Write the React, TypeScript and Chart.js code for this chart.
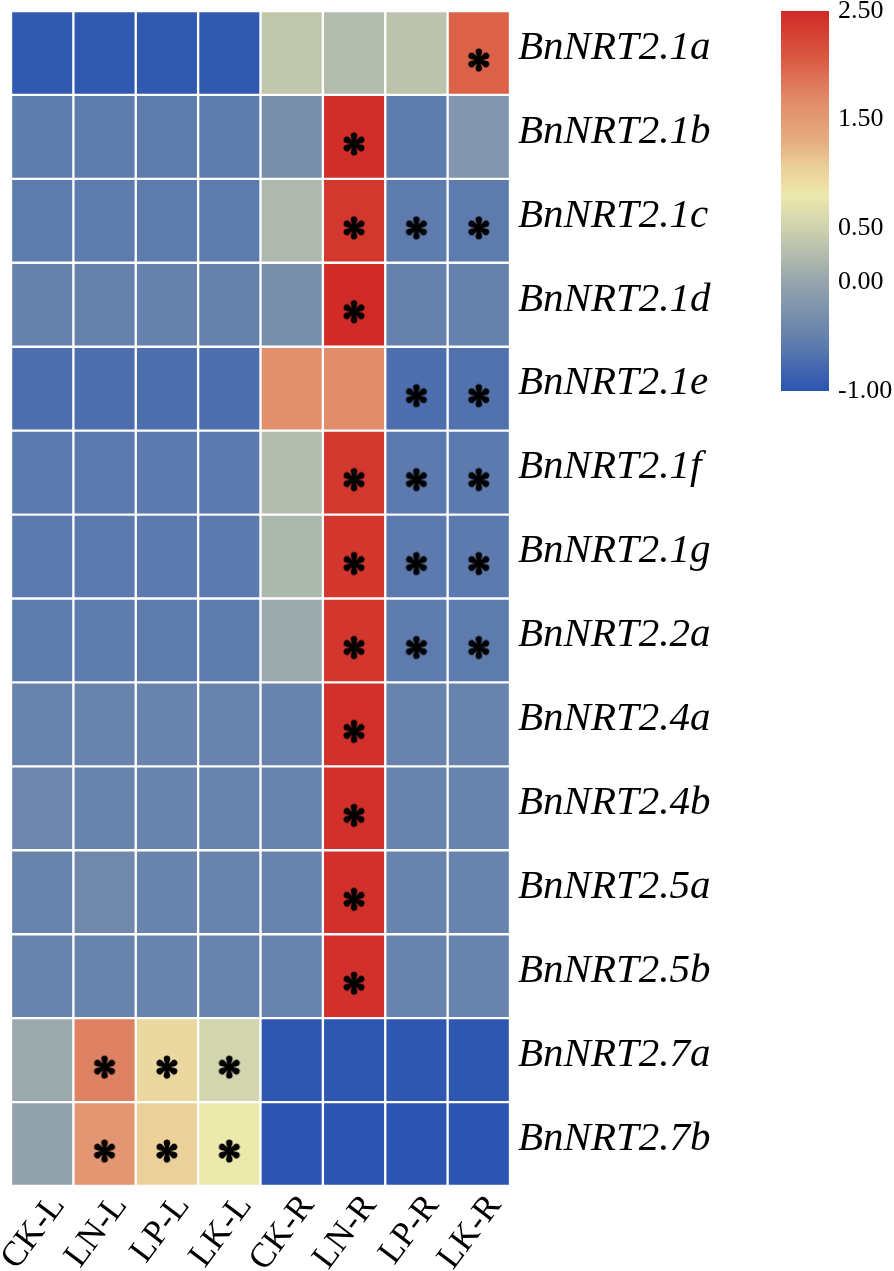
import React, { useEffect, useRef } from "react";
import { Chart, registerables } from "chart.js";

Chart.register(...registerables);

// ---------- data ----------
const columns = ["CK-L", "LN-L", "LP-L", "LK-L", "CK-R", "LN-R", "LP-R", "LK-R"];

const genes = [
  "BnNRT2.1a",
  "BnNRT2.1b",
  "BnNRT2.1c",
  "BnNRT2.1d",
  "BnNRT2.1e",
  "BnNRT2.1f",
  "BnNRT2.1g",
  "BnNRT2.2a",
  "BnNRT2.4a",
  "BnNRT2.4b",
  "BnNRT2.5a",
  "BnNRT2.5b",
  "BnNRT2.7a",
  "BnNRT2.7b",
];

const nrt21a = [-0.95, -0.95, -0.95, -0.95, 0.38, 0.27, 0.34, 2.0];
const nrt21b = [-0.55, -0.55, -0.55, -0.55, -0.3, 2.47, -0.55, -0.2];
const nrt21c = [-0.57, -0.57, -0.57, -0.57, 0.22, 2.38, -0.57, -0.57];
const nrt21d = [-0.5, -0.5, -0.5, -0.5, -0.3, 2.5, -0.5, -0.5];
const nrt21e = [-0.7, -0.7, -0.7, -0.7, 1.62, 1.66, -0.7, -0.67];
const nrt21f = [-0.58, -0.58, -0.58, -0.58, 0.27, 2.38, -0.58, -0.58];
const nrt21g = [-0.58, -0.58, -0.58, -0.58, 0.2, 2.4, -0.58, -0.58];
const nrt22a = [-0.57, -0.57, -0.57, -0.57, 0.05, 2.4, -0.57, -0.57];
const nrt24a = [-0.46, -0.46, -0.46, -0.46, -0.46, 2.45, -0.46, -0.46];
const nrt24b = [-0.42, -0.46, -0.46, -0.46, -0.46, 2.45, -0.46, -0.46];
const nrt25a = [-0.46, -0.4, -0.46, -0.46, -0.46, 2.45, -0.46, -0.46];
const nrt25b = [-0.46, -0.46, -0.46, -0.46, -0.46, 2.45, -0.46, -0.46];
const nrt27a = [0.05, 1.75, 0.97, 0.55, -0.98, -0.98, -0.98, -0.98];
const nrt27b = [-0.03, 1.55, 1.05, 0.8, -1.0, -1.0, -1.0, -1.0];

const rowValues = [
  nrt21a, nrt21b, nrt21c, nrt21d, nrt21e, nrt21f, nrt21g,
  nrt22a, nrt24a, nrt24b, nrt25a, nrt25b, nrt27a, nrt27b,
];

// significant cells marked with an asterisk: [gene, column]
const significant: [string, string][] = [
  ["BnNRT2.1a", "LK-R"],
  ["BnNRT2.1b", "LN-R"],
  ["BnNRT2.1c", "LN-R"], ["BnNRT2.1c", "LP-R"], ["BnNRT2.1c", "LK-R"],
  ["BnNRT2.1d", "LN-R"],
  ["BnNRT2.1e", "LP-R"], ["BnNRT2.1e", "LK-R"],
  ["BnNRT2.1f", "LN-R"], ["BnNRT2.1f", "LP-R"], ["BnNRT2.1f", "LK-R"],
  ["BnNRT2.1g", "LN-R"], ["BnNRT2.1g", "LP-R"], ["BnNRT2.1g", "LK-R"],
  ["BnNRT2.2a", "LN-R"], ["BnNRT2.2a", "LP-R"], ["BnNRT2.2a", "LK-R"],
  ["BnNRT2.4a", "LN-R"],
  ["BnNRT2.4b", "LN-R"],
  ["BnNRT2.5a", "LN-R"],
  ["BnNRT2.5b", "LN-R"],
  ["BnNRT2.7a", "LN-L"], ["BnNRT2.7a", "LP-L"], ["BnNRT2.7a", "LK-L"],
  ["BnNRT2.7b", "LN-L"], ["BnNRT2.7b", "LP-L"], ["BnNRT2.7b", "LK-L"],
];

// colour scale
const colorMin = -1.0;
const colorMax = 2.5;
const colorTicks = [-1.0, 0.0, 0.5, 1.5, 2.5];
const cmapValues = [-1.0, -0.5, 0.0, 0.4, 0.8, 1.05, 1.3, 1.7, 2.1, 2.5];
const cmapColors = [
  "#2b55b0", "#6581ac", "#95a4ad", "#c3c9ad", "#ece9ad",
  "#ebd09a", "#e6ad82", "#e08868", "#d9553f", "#d12b27",
];

// ---------- helpers ----------
const SERIF = "'Liberation Serif', 'Times New Roman', Times, serif";

function hexToRgb(h: string): number[] {
  const n = parseInt(h.slice(1), 16);
  return [(n >> 16) & 255, (n >> 8) & 255, n & 255];
}

function colorFor(v: number): string {
  const x = Math.max(colorMin, Math.min(colorMax, v));
  let i = 0;
  while (i < cmapValues.length - 2 && x > cmapValues[i + 1]) i++;
  const t = (x - cmapValues[i]) / (cmapValues[i + 1] - cmapValues[i]);
  const a = hexToRgb(cmapColors[i]);
  const b = hexToRgb(cmapColors[i + 1]);
  const c = a.map((av, k) => Math.round(av + (b[k] - av) * t));
  return `rgb(${c[0]}, ${c[1]}, ${c[2]})`;
}

function makeAsterisk(): HTMLCanvasElement {
  const c = document.createElement("canvas");
  c.width = 32;
  c.height = 46;
  const g = c.getContext("2d")!;
  g.fillStyle = "#000";
  g.translate(16, 30);
  const d = 8.2;
  const r = 3.3;
  for (let k = 0; k < 6; k++) {
    g.save();
    g.rotate((k * Math.PI) / 3);
    g.beginPath();
    g.moveTo(-1.0, 0);
    g.lineTo(-r * 0.95, -d + 0.6);
    g.arc(0, -d, r, Math.PI * 0.95, Math.PI * 2.05);
    g.lineTo(1.0, 0);
    g.closePath();
    g.fill();
    g.restore();
  }
  g.beginPath();
  g.arc(0, 0, 2.0, 0, Math.PI * 2);
  g.fill();
  return c;
}

export default function App() {
  const mainRef = useRef<HTMLCanvasElement>(null);
  const barRef = useRef<HTMLCanvasElement>(null);

  useEffect(() => {
    const asterisk = makeAsterisk();

    const cellDatasets: any[] = genes.map((g, r) => ({
      type: "bar",
      label: g,
      data: columns.map(() => 1),
      backgroundColor: rowValues[r].map((v) => colorFor(v)),
      borderColor: "#ffffff",
      borderWidth: 1.5,
      borderSkipped: false,
      barPercentage: 1,
      categoryPercentage: 1,
      xAxisID: "x",
      yAxisID: "y",
      order: 1,
    }));

    const starDataset: any = {
      type: "scatter",
      label: "significant",
      data: significant.map(([g, c]) => ({ x: c, y: g })),
      xAxisID: "x",
      yAxisID: "yGene",
      pointStyle: asterisk,
      pointRadius: 10,
      pointHoverRadius: 10,
      order: -1,
    };

    const main = new Chart(mainRef.current!, {
      type: "bar",
      data: { labels: columns, datasets: [...cellDatasets, starDataset] },
      options: {
        animation: false,
        responsive: false,
        events: [],
        layout: { padding: { left: 1, top: 10, right: 0, bottom: 0 } },
        plugins: { legend: { display: false }, tooltip: { enabled: false } },
        scales: {
          x: {
            type: "category",
            stacked: true,
            offset: true,
            grid: { display: false, drawTicks: false },
            border: { display: false },
            ticks: {
              autoSkip: false,
              minRotation: 53,
              maxRotation: 53,
              padding: 1,
              labelOffset: 16,
              color: "#000",
              font: { family: SERIF, size: 35 },
            },
            afterFit: (s: any) => {
              s.height = 85;
              s.paddingLeft = 0;
              s.paddingRight = 0;
            },
          },
          y: {
            type: "linear",
            stacked: true,
            reverse: true,
            min: 0,
            max: genes.length,
            display: false,
          },
          yGene: {
            type: "category",
            labels: genes,
            position: "right",
            offset: true,
            grid: { display: false, drawTicks: false },
            border: { display: false },
            ticks: {
              padding: 8,
              labelOffset: -5,
              color: "#000",
              font: { family: SERIF, size: 41, style: "italic" },
            },
            afterFit: (s: any) => {
              s.width = 384;
              s.paddingTop = 0;
              s.paddingBottom = 0;
            },
          },
        },
      } as any,
    });

    const cb = new Chart(barRef.current!, {
      type: "bar",
      data: {
        labels: [""],
        datasets: [
          {
            data: [[colorMin, colorMax]] as any,
            backgroundColor: (ctx: any) => {
              const chart = ctx.chart;
              const ys = chart.scales?.y;
              if (!chart.chartArea || !ys) return cmapColors[0];
              const grad = chart.ctx.createLinearGradient(
                0,
                ys.getPixelForValue(colorMin),
                0,
                ys.getPixelForValue(colorMax)
              );
              cmapValues.forEach((v, i) =>
                grad.addColorStop((v - colorMin) / (colorMax - colorMin), cmapColors[i])
              );
              return grad;
            },
            borderWidth: 0,
            barPercentage: 1,
            categoryPercentage: 1,
          },
        ],
      },
      options: {
        animation: false,
        responsive: false,
        events: [],
        layout: { padding: { left: 21, top: 11, right: 0, bottom: 9 } },
        plugins: { legend: { display: false }, tooltip: { enabled: false } },
        scales: {
          x: { display: false },
          y: {
            position: "right",
            min: colorMin,
            max: colorMax,
            grid: { display: false, drawTicks: false },
            border: { display: false },
            afterBuildTicks: (s: any) => {
              s.ticks = colorTicks.map((v) => ({ value: v }));
            },
            ticks: {
              padding: 9,
              color: "#000",
              font: { family: SERIF, size: 26 },
              callback: (v: any) => Number(v).toFixed(2),
            },
            afterFit: (s: any) => {
              s.width = 65;
              s.paddingTop = 0;
              s.paddingBottom = 0;
            },
          },
        },
      } as any,
    });

    return () => {
      main.destroy();
      cb.destroy();
    };
  }, []);

  return (
    <div
      style={{
        position: "absolute",
        left: 0,
        top: 0,
        width: 894,
        height: 1271,
        background: "#ffffff",
        overflow: "hidden",
      }}
    >
      <canvas
        ref={mainRef}
        width={894}
        height={1271}
        style={{ position: "absolute", left: 0, top: 0 }}
      />
      <canvas
        ref={barRef}
        width={134}
        height={400}
        style={{ position: "absolute", left: 760, top: 0 }}
      />
    </div>
  );
}
